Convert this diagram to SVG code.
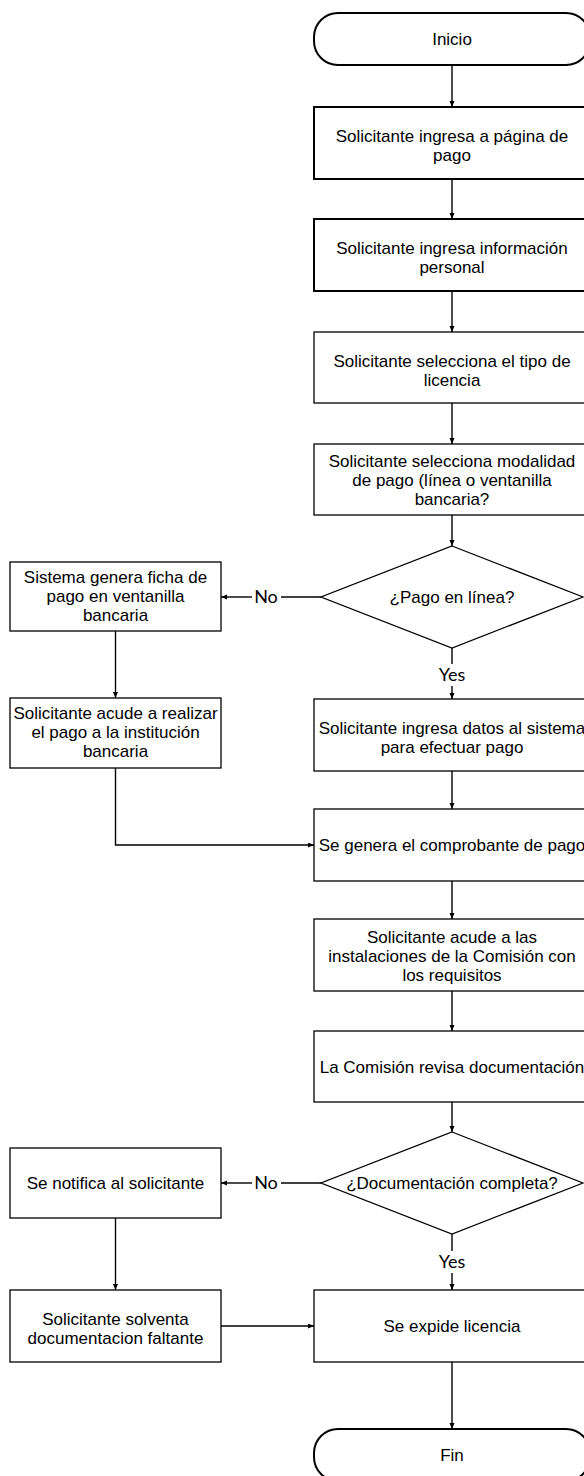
<svg xmlns="http://www.w3.org/2000/svg" width="584" height="1476" viewBox="0 0 584 1476">
<style>
.n{fill:#fff;stroke:#000;stroke-width:1.3}
.n2{fill:#fff;stroke:#000;stroke-width:2}
.t{font-family:"Liberation Sans",Arial,sans-serif;font-size:17px;fill:#000;text-anchor:middle}
.l{font-family:Lato,"Open Sans",sans-serif;font-size:18px;fill:#000;text-anchor:middle}
.c{fill:none;stroke:#000;stroke-width:1.4}
.a{marker-end:url(#ah)}
</style>
<defs>
<marker id="ah" markerUnits="userSpaceOnUse" markerWidth="7" markerHeight="6" refX="6" refY="2.5" orient="auto">
<path d="M0,0 L6,2.5 L0,5 z" fill="#000"/>
</marker>
</defs>
<rect width="584" height="1476" fill="#fff"/>
<g id="connectors">
<path class="c a" d="M452 65 V107"/>
<path class="c a" d="M452 179 V219"/>
<path class="c a" d="M452 291 V332"/>
<path class="c a" d="M452 403 V444"/>
<path class="c a" d="M452 515 V546"/>
<path class="c" d="M321 597 H281"/>
<path class="c a" d="M252 597 H221"/>
<text class="l" x="266" y="603">No</text>
<path class="c" d="M452 648 V664"/>
<path class="c a" d="M452 686 V699"/>
<text class="l" x="452" y="681">Yes</text>
<path class="c a" d="M115.5 631 V698"/>
<path class="c a" d="M115.5 768 V845 H314"/>
<path class="c a" d="M452 771 V809"/>
<path class="c a" d="M452 881 V919"/>
<path class="c a" d="M452 991 V1031"/>
<path class="c a" d="M452 1102 V1132"/>
<path class="c" d="M321 1183 H281"/>
<path class="c a" d="M252 1183 H221"/>
<text class="l" x="266" y="1189">No</text>
<path class="c" d="M452 1234 V1251"/>
<path class="c a" d="M452 1273 V1290"/>
<text class="l" x="452" y="1268">Yes</text>
<path class="c a" d="M115.5 1218 V1290"/>
<path class="c a" d="M221 1326 H314"/>
<path class="c a" d="M452 1362 V1429"/>
</g>
<g id="inicio">
<rect class="n2" x="314" y="13" width="276" height="52" rx="24" ry="24"/>
<text class="t" x="452" y="45">Inicio</text>
</g>
<g id="b1">
<rect class="n2" x="314" y="107" width="276" height="72"/>
<text class="t" x="452" y="142">Solicitante ingresa a página de</text>
<text class="t" x="452" y="161">pago</text>
</g>
<g id="b2">
<rect class="n2" x="314" y="219" width="276" height="72"/>
<text class="t" x="452" y="254">Solicitante ingresa información</text>
<text class="t" x="452" y="273">personal</text>
</g>
<g id="b3">
<rect class="n" x="314" y="332" width="276" height="71"/>
<text class="t" x="452" y="366.5">Solicitante selecciona el tipo de</text>
<text class="t" x="452" y="385.5">licencia</text>
</g>
<g id="b4">
<rect class="n" x="314" y="444" width="276" height="71"/>
<text class="t" x="452" y="466.5">Solicitante selecciona modalidad</text>
<text class="t" x="452" y="485.5">de pago (línea o ventanilla</text>
<text class="t" x="452" y="504.5">bancaria?</text>
</g>
<g id="d1">
<polygon class="n" points="452,546 583,597 452,648 321,597"/>
<text class="t" x="452" y="603">¿Pago en línea?</text>
</g>
<g id="l1">
<rect class="n" x="10" y="562" width="211" height="69"/>
<text class="t" x="115.5" y="582.5">Sistema genera ficha de</text>
<text class="t" x="115.5" y="601.5">pago en ventanilla</text>
<text class="t" x="115.5" y="620.5">bancaria</text>
</g>
<g id="l2">
<rect class="n" x="10" y="698" width="211" height="70"/>
<text class="t" x="115.5" y="719">Solicitante acude a realizar</text>
<text class="t" x="115.5" y="738">el pago a la institución</text>
<text class="t" x="115.5" y="757">bancaria</text>
</g>
<g id="b5">
<rect class="n" x="314" y="699" width="276" height="72"/>
<text class="t" x="452" y="734">Solicitante ingresa datos al sistema</text>
<text class="t" x="452" y="753">para efectuar pago</text>
</g>
<g id="b6">
<rect class="n" x="314" y="809" width="276" height="72"/>
<text class="t" x="452" y="851">Se genera el comprobante de pago</text>
</g>
<g id="b7">
<rect class="n" x="314" y="919" width="276" height="72"/>
<text class="t" x="452" y="943">Solicitante acude a las</text>
<text class="t" x="452" y="962">instalaciones de la Comisión con</text>
<text class="t" x="452" y="981">los requisitos</text>
</g>
<g id="b8">
<rect class="n" x="314" y="1031" width="276" height="71"/>
<text class="t" x="452" y="1072.5">La Comisión revisa documentación</text>
</g>
<g id="d2">
<polygon class="n" points="452,1132 583,1183 452,1234 321,1183"/>
<text class="t" x="452" y="1189">¿Documentación completa?</text>
</g>
<g id="l3">
<rect class="n" x="10" y="1148" width="211" height="70"/>
<text class="t" x="115.5" y="1189">Se notifica al solicitante</text>
</g>
<g id="l4">
<rect class="n" x="10" y="1290" width="211" height="72"/>
<text class="t" x="115.5" y="1325">Solicitante solventa</text>
<text class="t" x="115.5" y="1344">documentacion faltante</text>
</g>
<g id="b9">
<rect class="n" x="314" y="1290" width="276" height="72"/>
<text class="t" x="452" y="1332">Se expide licencia</text>
</g>
<g id="fin">
<rect class="n2" x="314" y="1429" width="276" height="52" rx="24" ry="24"/>
<text class="t" x="452" y="1461">Fin</text>
</g>
</svg>
